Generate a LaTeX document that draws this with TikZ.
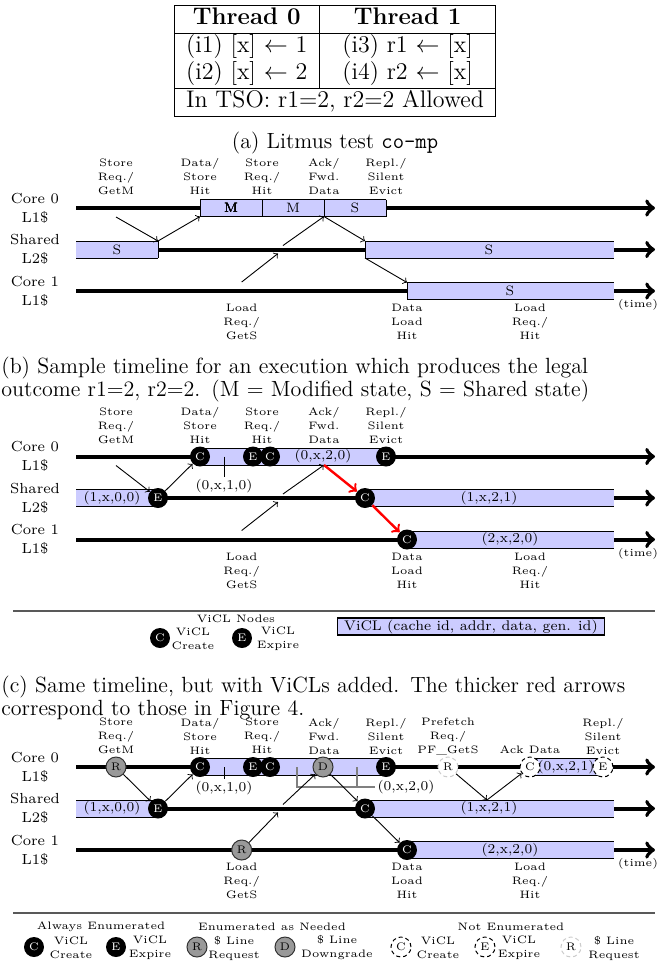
\documentclass[tikz,border=0pt]{standalone}
\usepackage{tikz}
\usepackage{xcolor}

\newcommand{\lblfont}{\fontsize{5.4}{7}\selectfont}
% lavender strip along a timeline: from x=#1 to x=#2 at height #3
\newcommand{\viclstrip}[3]{%
  \fill[blue!20] (#1,#3-8.5) rectangle (#2,#3+8.5);
  \draw[rim] (#1,#3-8.5) -- (#2,#3-8.5) (#1,#3+8.5) -- (#2,#3+8.5);}
% closed end of a strip
\newcommand{\stripend}[2]{\draw[rim] (#1,#2-8.5) -- (#1,#2+8.5);}

\begin{document}
\begin{tikzpicture}[x=0.5pt, y=-0.5pt,
    tline/.style = {line width=2pt, ->},
    rim/.style = {line width=0.5pt},
    msg/.style = {->, line width=0.45pt},
    hot/.style = {->, red, line width=1.2pt},
    ev/.style = {circle, inner sep=0pt, minimum size=10pt,
      font=\fontsize{5.5}{6}\selectfont},
    vc/.style = {ev, fill=black, text=white},
    rq/.style = {ev, fill=gray!80, draw=black!80, line width=0.5pt},
    gh/.style = {ev, fill=white, draw=black, line width=0.5pt,
      dash pattern=on 2pt off 1.5pt},
    ghr/.style = {gh, draw=gray!40},
    lbl/.style = {align=center, font=\lblfont, inner sep=0.5pt},
    core/.style = {align=center, font=\fontsize{7.3}{9.7}\selectfont},
    val/.style = {font=\fontsize{6.8}{8}\selectfont, inner sep=1pt},
    tab/.style = {font=\fontsize{12}{13.5}\selectfont, inner sep=0pt},
    figcap/.style = {anchor=north west, inner sep=0pt, text width=331pt,
      align=left, font=\fontsize{11}{11.3}\selectfont},
    sep/.style = {black!65, line width=0.8pt},
    brk/.style = {gray, line width=0.6pt}]
\useasboundingbox (0,0) rectangle (670,971);

% litmus test table
\setlength{\arrayrulewidth}{0.5pt}
\node[tab] (lit) at (335,60.5) {\begin{tabular}{|c|c|}
  \hline
  \textbf{Thread 0} & \textbf{Thread 1}\\
  \hline
  (i1) [x] $\leftarrow$ 1 & (i3) r1 $\leftarrow$ [x]\\
  (i2) [x] $\leftarrow$ 2 & (i4) r2 $\leftarrow$ [x]\\
  \hline
  \multicolumn{2}{|c|}{In TSO: r1=2, r2=2 Allowed}\\
  \hline
\end{tabular}};
\node[font=\fontsize{11}{12}\selectfont] (capa) at (335,143) {(a) Litmus test \texttt{co-mp}};

% the three timelines, drawn the same way in every part
\foreach \p/\y in {a/208,b/456.5,c/767}{
  \draw[tline] (76,\y) -- (655,\y);
  \draw[tline] (76,\y+41.5) -- (655,\y+41.5);
  \draw[tline] (76,\y+83) -- (655,\y+83);
  \node[core] (\p0) at (35,\y) {Core 0\\L1\$};
  \node[core] (\p1) at (35,\y+41.5) {Shared\\L2\$};
  \node[core] (\p2) at (35,\y+83) {Core 1\\L1\$};
  \node[lbl] (\p t1) at (116,\y-31) {Store\\Req./\\GetM};
  \node[lbl] (\p t2) at (200,\y-31) {Data/\\Store\\Hit};
  \node[lbl] (\p t3) at (262,\y-31) {Store\\Req./\\Hit};
  \node[lbl] (\p t4) at (324,\y-31) {Ack/\\Fwd.\\Data};
  \node[lbl] (\p t5) at (386,\y-31) {Repl./\\Silent\\Evict};
  \node[lbl] (\p b1) at (241.7,\y+114) {Load\\Req./\\GetS};
  \node[lbl] (\p b2) at (407,\y+114) {Data\\Load\\Hit};
  \node[lbl] (\p b3) at (530,\y+114) {Load\\Req./\\Hit};
  \node[lbl] (\p tm) at (638,\y+97) {(time)};
}

% (a) cache states
\viclstrip{200}{386}{208}
\foreach \x in {200,262,324,386} \stripend{\x}{208}
\node[val] (am1) at (231,208) {M};
\node[val] (am2) at (293,208) {M};
\node[val] (as1) at (355,208) {S};
\viclstrip{76}{158}{249.5} \stripend{158}{249.5}
\node[val] (as2) at (117,249.5) {S};
\viclstrip{365}{614}{249.5} \stripend{365}{249.5}
\node[val] (as3) at (489,249.5) {S};
\viclstrip{407}{614}{291} \stripend{407}{291}
\node[val] (as4) at (510,291) {S};

\coordinate (a-req) at (116,217);
\coordinate (a-l2e) at (158,241);
\coordinate (a-dat) at (200,216.5);
\coordinate (a-ld) at (241.7,282);
\coordinate (a-ldm) at (278,253.5);
\coordinate (a-fw) at (283,245.5);
\coordinate (a-ack) at (324,216.5);
\coordinate (a-l2c) at (365,241);
\coordinate (a-l2d) at (365,258);
\coordinate (a-c1) at (407,282.5);
\draw[msg] (a-req) -- (a-l2e);
\draw[msg] (a-l2e) -- (a-dat);
\draw[msg] (a-ld) -- (a-ldm);
\draw[msg] (a-fw) -- (a-ack);
\draw[msg] (a-ack) -- (a-l2c);
\draw[msg] (a-l2d) -- (a-c1);

\node[figcap] (capb) at (1,357) {\makebox[329pt][s]{(b) Sample timeline for an execution which produces the legal}\\
  outcome r1=2, r2=2. (M = Modified state, S = Shared state)};

% (b) timeline with ViCLs
\viclstrip{200}{386}{456.5}
\node[val] (bv1) at (323,456.5) {(0,x,2,0)};
\node[val] (bv2) at (224,486) {(0,x,1,0)};
\draw[rim] (224,456.5) -- (bv2.north);
\viclstrip{76}{158}{498}
\node[val] (bv3) at (112,498) {(1,x,0,0)};
\viclstrip{365}{614}{498}
\node[val] (bv4) at (489,498) {(1,x,2,1)};
\viclstrip{407}{614}{539.5}
\node[val] (bv5) at (510,539.5) {(2,x,2,0)};

\node[vc] (b-e1) at (158,498) {E};
\node[vc] (b-c1) at (200,456.5) {C};
\node[vc] (b-e2) at (253,456.5) {E};
\node[vc] (b-c2) at (270,456.5) {C};
\node[vc] (b-e3) at (386,456.5) {E};
\node[vc] (b-c3) at (365,498) {C};
\node[vc] (b-c4) at (407,539.5) {C};
\coordinate (b-req) at (116,465.5);
\coordinate (b-ld) at (241.7,530.5);
\coordinate (b-ldm) at (278,502);
\coordinate (b-fw) at (283,494);
\coordinate (b-ack) at (324,465);
\draw[msg] (b-req) -- (b-e1);
\draw[msg] (b-e1) -- (b-c1);
\draw[msg] (b-ld) -- (b-ldm);
\draw[msg] (b-fw) -- (b-ack);
\draw[hot] (b-ack) -- (b-c3);
\draw[hot] (b-c3) -- (b-c4);

% legend of (b)
\coordinate (s1l) at (13,611);
\coordinate (s1r) at (655,611);
\draw[sep] (s1l) -- (s1r);
\node[lbl] (ln) at (236,619) {ViCL Nodes};
\node[vc] (lc) at (160,638) {C};
\node[lbl] (lct) at (193,639) {ViCL\\Create};
\node[vc] (le) at (242,638) {E};
\node[lbl] (let) at (278,639) {ViCL\\Expire};
\node[draw, fill=blue!20, line width=0.6pt, font=\fontsize{7}{8}\selectfont,
  minimum height=8.5pt, minimum width=126pt, inner ysep=0.5pt] (lbox) at (471,626.5)
  {ViCL (cache id, addr, data, gen. id)};

\node[figcap] (capc) at (1,676) {\makebox[329pt][s]{(c) Same timeline, but with ViCLs added. The thicker red arrows}\\
  correspond to those in Figure 4.};

% (c) timeline with all ViCL and cache line nodes
\viclstrip{200}{386}{767}
\viclstrip{530}{603}{767}
\node[val] (cv1) at (566,767) {(0,x,2,1)};
\node[val] (cv2) at (224,788) {(0,x,1,0)};
\draw[rim] (224,767) -- (cv2.north);
\node[val] (cv3) at (406,787) {(0,x,2,0)};
\draw[brk] (297,767) -- (297,787) -- (cv3.west);
\draw[brk] (357,767) -- (357,787);
\viclstrip{76}{158}{808.5}
\node[val] (cv4) at (112,808.5) {(1,x,0,0)};
\viclstrip{365}{614}{808.5}
\node[val] (cv5) at (489,808.5) {(1,x,2,1)};
\viclstrip{407}{614}{850}
\node[val] (cv6) at (510,850) {(2,x,2,0)};

\node[lbl] (ct6) at (448,736) {Prefetch\\Req./\\PF\_GetS};
\node[lbl] (ct7) at (530,750) {Ack Data};
\node[lbl] (ct8) at (603,736) {Repl./\\Silent\\Evict};

\node[rq] (c-r1) at (116,767) {R};
\node[vc] (c-c1) at (200,767) {C};
\node[vc] (c-e2) at (253,767) {E};
\node[vc] (c-c2) at (270,767) {C};
\node[rq] (c-d) at (323,767) {D};
\node[vc] (c-e3) at (386,767) {E};
\node[ghr] (c-r2) at (448,767) {R};
\node[gh] (c-c5) at (530,767) {C};
\node[gh] (c-e5) at (603,767) {E};
\node[vc] (c-e1) at (158,808.5) {E};
\node[vc] (c-c3) at (365,808.5) {C};
\node[rq] (c-r3) at (241.7,850) {R};
\node[vc] (c-c4) at (407,850) {C};
\coordinate (c-ldm) at (278,812.5);
\coordinate (c-fw) at (283,804.5);
\coordinate (c-pf) at (487,800);
\draw[msg] (c-r1) -- (c-e1);
\draw[msg] (c-e1) -- (c-c1);
\draw[msg] (c-r3) -- (c-ldm);
\draw[msg] (c-fw) -- (c-d);
\draw[msg] (c-d) -- (c-c3);
\draw[msg] (c-c3) -- (c-c4);
\draw[msg] (c-r2) -- (c-pf);
\draw[msg] (c-pf) -- (c-c5);

% legend of (c)
\coordinate (s2l) at (13,912.7);
\coordinate (s2r) at (655,912.7);
\draw[sep] (s2l) -- (s2r);
\node[lbl] (g1) at (101,927) {Always Enumerated};
\node[vc] (k1) at (34,947) {C};
\node[lbl] (k1t) at (71,948) {ViCL\\Create};
\node[vc] (k2) at (116,947) {E};
\node[lbl] (k2t) at (150,948) {ViCL\\Expire};
\node[lbl] (g2) at (272,927) {Enumerated as Needed};
\node[rq] (k3) at (197,947) {R};
\node[lbl] (k3t) at (234,948) {\$ Line\\Request};
\node[rq] (k4) at (285,947) {D};
\node[lbl] (k4t) at (337,948) {\$ Line\\Downgrade};
\node[lbl] (g3) at (511,927) {Not Enumerated};
\node[gh] (k5) at (401,947) {C};
\node[lbl] (k5t) at (438,948) {ViCL\\Create};
\node[gh] (k6) at (485,947) {E};
\node[lbl] (k6t) at (519,948) {ViCL\\Expire};
\node[ghr] (k7) at (571,947) {R};
\node[lbl] (k7t) at (614,948) {\$ Line\\Request};
\end{tikzpicture}
\end{document}
